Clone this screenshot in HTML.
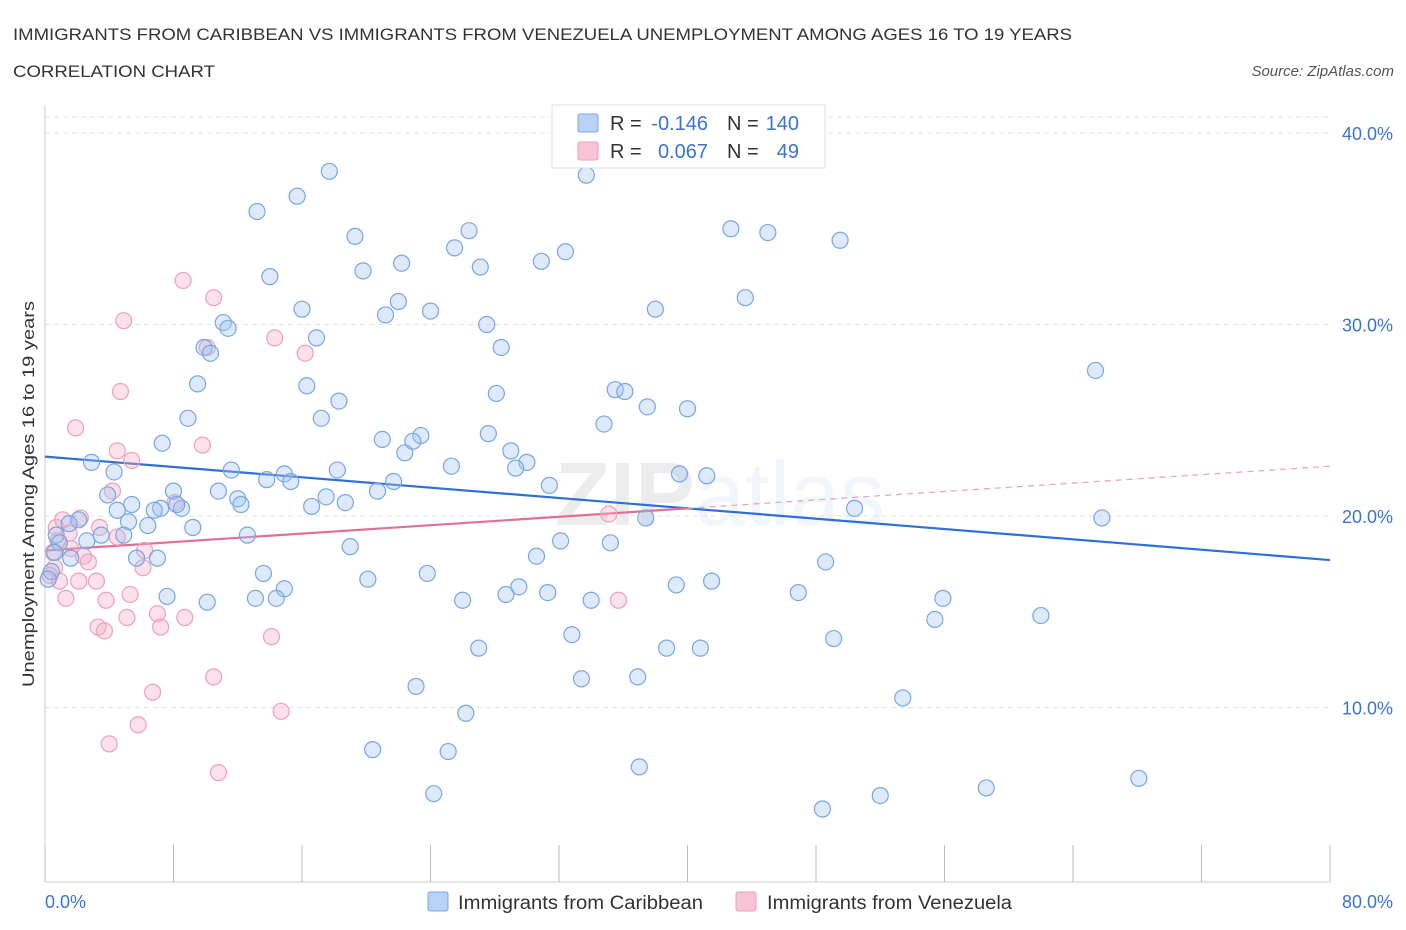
<!DOCTYPE html>
<html><head><meta charset="utf-8"><style>
body{margin:0;background:#fff;font-family:"Liberation Sans",sans-serif;}
#wrap{position:relative;width:1406px;height:930px;overflow:hidden;}
</style></head><body>
<div id="wrap">
<svg id="svg" width="1406" height="930" xmlns="http://www.w3.org/2000/svg">
<text x="13" y="40" font-size="17" fill="#333" textLength="1059" lengthAdjust="spacingAndGlyphs">IMMIGRANTS FROM CARIBBEAN VS IMMIGRANTS FROM VENEZUELA UNEMPLOYMENT AMONG AGES 16 TO 19 YEARS</text>
<text x="13" y="77" font-size="17" fill="#333" textLength="202" lengthAdjust="spacingAndGlyphs">CORRELATION CHART</text>
<text x="1394" y="76" font-size="15" fill="#555" font-style="italic" text-anchor="end">Source: ZipAtlas.com</text>
<text x="720" y="525" font-size="90" fill="#000" opacity="0.07" font-weight="bold" text-anchor="middle">ZIP<tspan font-weight="normal" fill="#3a7bd5" opacity="0.9">atlas</tspan></text>
<g id="grid"></g><g id="axes"></g><g id="trends"></g><g id="pts"></g>
<text transform="translate(34,494) rotate(-90)" font-size="17" fill="#333" text-anchor="middle" textLength="386" lengthAdjust="spacingAndGlyphs">Unemployment Among Ages 16 to 19 years</text>
<g>
<rect x="552" y="105" width="273" height="63" fill="#fff" stroke="#ddd"/>
<rect x="578" y="114" width="20" height="18" fill="#b8d2f5" stroke="#7aa6e3" rx="2"/>
<rect x="578" y="142" width="20" height="18" fill="#f8c4d4" stroke="#eba1ba" rx="2"/>
<text x="610" y="130" font-size="20" fill="#333">R =</text>
<text x="708" y="130" font-size="20" fill="#3a74d0" text-anchor="end">-0.146</text>
<text x="727" y="130" font-size="20" fill="#333">N =</text>
<text x="799" y="130" font-size="20" fill="#3a74d0" text-anchor="end">140</text>
<text x="610" y="158" font-size="20" fill="#333">R =</text>
<text x="708" y="158" font-size="20" fill="#3a74d0" text-anchor="end">0.067</text>
<text x="727" y="158" font-size="20" fill="#333">N =</text>
<text x="799" y="158" font-size="20" fill="#3a74d0" text-anchor="end">49</text>
</g>
<g>
<rect x="428" y="892" width="20" height="19" fill="#b8d2f5" stroke="#7aa6e3" rx="2"/>
<text x="458" y="909" font-size="19" fill="#333" textLength="245" lengthAdjust="spacingAndGlyphs">Immigrants from Caribbean</text>
<rect x="736" y="892" width="20" height="19" fill="#f8c4d4" stroke="#eba1ba" rx="2"/>
<text x="767" y="909" font-size="19" fill="#333" textLength="245" lengthAdjust="spacingAndGlyphs">Immigrants from Venezuela</text>
</g>
</svg>
</div>
<script>
const blueX=[17.7,15.7,13.2,33.7,42.7,45.0,49.5,26.4,25.5,19.3,32.4,30.9,22.2,19.8,27.1,14.0,43.6,22.0,16.0,21.2,24.0,38.0,11.1,11.4,16.9,27.5,28.4,9.9,10.3,65.4,9.5,16.3,35.5,36.1,28.1,18.3,37.5,40.0,8.9,17.2,34.8,27.6,23.4,21.0,7.3,22.9,29.0,22.4,2.9,25.3,11.6,30.0,14.9,18.2,29.3,39.5,41.2,4.3,13.8,15.3,21.7,31.4,3.9,10.8,8.0,17.5,20.7,12.0,5.4,7.2,18.7,12.2,16.6,8.5,6.8,4.5,8.2,2.1,5.2,1.5,6.4,65.8,50.4,37.4,9.2,0.7,0.9,2.6,3.5,4.9,12.6,19.0,32.1,35.2,30.6,5.7,7.0,48.6,13.6,23.8,20.1,14.9,29.5,31.3,39.3,41.5,7.6,10.1,13.1,14.4,26.0,28.7,34.0,46.9,55.9,55.4,62.0,32.8,49.1,27.0,38.7,40.8,33.4,36.9,23.1,53.4,26.2,20.4,25.1,37.0,68.1,58.6,24.2,52.0,48.4,0.4,0.2,0.6,1.6];
const blueY=[38.0,36.7,35.9,37.8,35.0,34.8,34.4,34.9,34.0,34.6,33.8,33.3,33.2,32.8,33.0,32.5,31.4,31.2,30.8,30.5,30.7,30.8,30.1,29.8,29.3,30.0,28.8,28.8,28.5,27.6,26.9,26.8,26.6,26.5,26.4,26.0,25.7,25.6,25.1,25.1,24.8,24.3,24.2,24.0,23.8,23.9,23.4,23.3,22.8,22.6,22.4,22.8,22.2,22.4,22.5,22.2,22.1,22.3,21.9,21.8,21.8,21.6,21.1,21.3,21.3,21.0,21.3,20.9,20.6,20.4,20.7,20.6,20.5,20.4,20.3,20.3,20.6,19.8,19.7,19.6,19.5,19.9,20.4,19.9,19.4,19.0,18.6,18.7,19.0,19.0,19.0,18.4,18.7,18.6,17.9,17.8,17.8,17.6,17.0,17.0,16.7,16.2,16.3,16.0,16.4,16.6,15.8,15.5,15.7,15.7,15.6,15.9,15.6,16.0,15.7,14.6,14.8,13.8,13.6,13.1,13.1,13.1,11.5,11.6,11.1,10.5,9.7,7.8,7.7,6.9,6.3,5.8,5.5,5.4,4.7,17.1,16.7,18.1,17.8];
const pinkX=[8.6,10.5,4.9,14.3,16.2,10.1,4.7,1.9,9.8,4.5,5.4,4.2,8.1,2.2,0.7,3.4,1.5,0.8,6.2,2.4,2.7,4.5,6.1,0.6,0.9,3.2,2.1,5.3,1.3,3.8,35.7,35.1,7.0,8.7,5.1,7.2,3.3,3.7,14.1,10.5,6.7,14.7,5.8,4.0,10.8,0.5,1.6,0.3,1.1];
const pinkY=[32.3,31.4,30.2,29.3,28.5,28.8,26.5,24.6,23.7,23.4,22.9,21.3,20.7,19.9,19.4,19.4,19.1,18.7,18.2,17.9,17.6,18.9,17.3,17.3,16.6,16.6,16.6,15.9,15.7,15.6,15.6,20.1,14.9,14.7,14.7,14.2,14.2,14.0,13.7,11.6,10.8,9.8,9.1,8.1,6.6,18.1,18.3,16.9,19.8];
const blueTrend=[23.1,17.7];
const pinkTrend=[18.2,20.4,22.6];
const yTicks=[10,20,30,40];
const yTickLabels=["10.0%","20.0%","30.0%","40.0%"];
const xTicks=[0,8,16,24,32,40,48,56,64,72,80];
const xTickLabels=["0.0%","80.0%"];

const NS="http://www.w3.org/2000/svg";
const sx=v=>45+v*(1285/80);
const sy=v=>899-v*19.15;
function mk(tag,attrs,parent){const e=document.createElementNS(NS,tag);for(const k in attrs)e.setAttribute(k,attrs[k]);document.getElementById(parent).appendChild(e);return e;}
mk('line',{x1:45,x2:1330,y1:117,y2:117,stroke:'#e3e3e3','stroke-dasharray':'5,4'},'grid');
yTicks.forEach((t,i)=>{
 const l=mk('line',{x1:45,x2:1330,y1:sy(t),y2:sy(t),stroke:'#e3e3e3','stroke-dasharray':'5,4'},'grid');
 
 
 const tx=mk('text',{x:1393,y:sy(t)+7,'font-size':18,fill:'#3a74d0','text-anchor':'end'},'axes');
 tx.textContent=yTickLabels[i];
 
 
});
const ya=mk('line',{x1:45,x2:45,y1:105,y2:882,stroke:'#ccc'},'axes');


const xa=mk('line',{x1:45,x2:1330,y1:882,y2:882,stroke:'#ccc'},'axes');


xTicks.forEach(t=>{
 const l=mk('line',{x1:sx(t),x2:sx(t),y1:845,y2:882,stroke:'#bbb'},'axes');
 
 
});
const xl0=mk('text',{x:45,y:908,'font-size':18,fill:'#3a74d0'},'axes');xl0.textContent=xTickLabels[0];


const xl1=mk('text',{x:1393,y:908,'font-size':18,fill:'#3a74d0','text-anchor':'end'},'axes');xl1.textContent=xTickLabels[1];



pinkX.forEach((x,i)=>{
 const c=mk('circle',{cx:sx(x),cy:sy(pinkY[i]),r:8,fill:'rgba(245,170,195,0.35)',stroke:'#eca0bb','stroke-width':1.2},'pts');
 
 
});
blueX.forEach((x,i)=>{
 const c=mk('circle',{cx:sx(x),cy:sy(blueY[i]),r:8,fill:'rgba(160,195,240,0.35)',stroke:'#78a6e2','stroke-width':1.2},'pts');
 
 
});
const bt=mk('line',{x1:sx(0),y1:sy(blueTrend[0]),x2:sx(80),y2:sy(blueTrend[1]),stroke:'#2f6fd6','stroke-width':2.2},'trends');


const pt=mk('line',{x1:sx(0),y1:sy(pinkTrend[0]),x2:sx(40),y2:sy(pinkTrend[1]),stroke:'#e0709a','stroke-width':2.2},'trends');


const pd=mk('line',{x1:sx(40),y1:sy(pinkTrend[1]),x2:sx(80),y2:sy(pinkTrend[2]),stroke:'#e8a0b8','stroke-width':1.2,'stroke-dasharray':'6,5'},'trends');


</script>
</body></html>
